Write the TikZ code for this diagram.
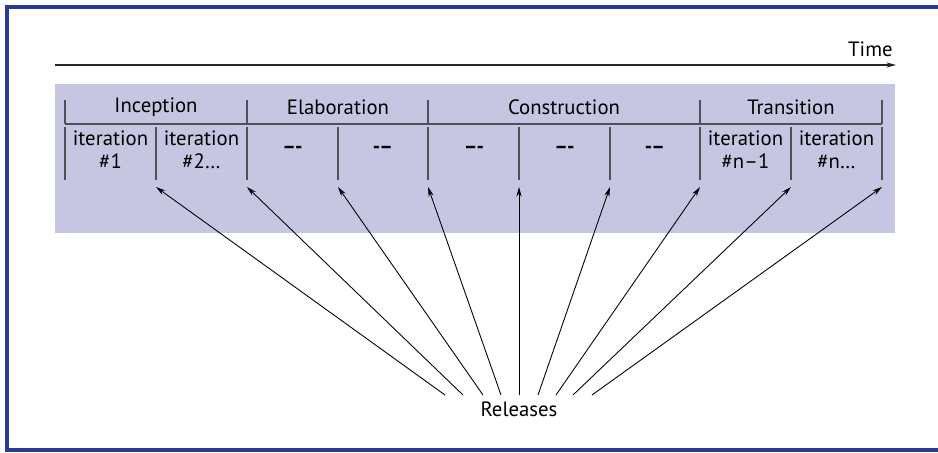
\documentclass[tikz,border=0pt]{standalone}
\usepackage{fontspec}
\setmainfont{PT Sans}
\usetikzlibrary{arrows.meta}
\definecolor{framebl}{RGB}{40,58,150}
\definecolor{lavender}{RGB}{198,198,226}
\definecolor{tickgr}{RGB}{80,80,90}

\begin{document}
\begin{tikzpicture}[x=0.02cm, y=-0.02cm, >={Stealth[length=5.5pt,width=3pt]},
    lbl/.style={font=\fontsize{11.8}{13}\selectfont, inner sep=0pt, align=center},
    dashlbl/.style={font=\fontsize{11.8}{13}\selectfont\bfseries, inner sep=0pt},
    tick/.style={draw=tickgr, line width=0.75pt},
    release/.style={->, line width=0.5pt}]
  \useasboundingbox (0,0) rectangle (938,453);
  % outer frame
  \draw[framebl, line width=2.3pt] (7,7) rectangle (946,450);
  % time axis
  \coordinate (tstart) at (55,65);
  \coordinate (tend) at (896,65);
  \draw[->, line width=0.6pt, draw=black!85] (tstart) -- (tend);
  \node[lbl, anchor=south east] (time) at (893,57) {Time};
  % shaded band
  \fill[lavender] (55,84) rectangle (895,233);
  % phase row
  \draw[tick] (65,124) -- (882,124);
  \foreach \x in {65,247,428,700,882}
    \draw[tick] (\x,100) -- (\x,124);
  \node[lbl] (incep) at (156,107) {Inception};
  \node[lbl] (elab) at (338,107) {Elaboration};
  \node[lbl] (constr) at (564,107) {Construction};
  \node[lbl] (trans) at (791,107) {Transition};
  % iteration row
  \foreach \x [count=\i from 0] in {65,156,247,338,428,519,610,700,791,882} {
    \draw[tick] (\x,127) -- (\x,180);
    \coordinate (t\i) at (\x,187);
  }
  \node[lbl] (it1) at (110.5,150) {iteration\\\#1};
  \node[lbl] (it2) at (201.5,150) {iteration\\\#2\ldots};
  \node[dashlbl] (d1) at (292.5,150) {\textendash\kern-0.5pt-};
  \node[dashlbl] (d2) at (383,150) {-\kern-0.5pt\textendash};
  \node[dashlbl] (d3) at (474,150) {\textendash\kern-0.5pt-};
  \node[dashlbl] (d4) at (564.5,150) {\textendash\kern-0.5pt-};
  \node[dashlbl] (d5) at (655,150) {-\kern-0.5pt\textendash};
  \node[lbl] (itn1) at (745.5,150) {iteration\\\#n\textendash1};
  \node[lbl] (itn) at (836.5,150) {iteration\\\#n\ldots};
  % releases
  \node[lbl] (rel) at (519,409) {Releases};
  \foreach \x [count=\i] in {445,463,483,501,519,538,556,573,592} {
    \coordinate (s\i) at (\x,395);
    \draw[release] (s\i) -- (t\i);
  }
\end{tikzpicture}
\end{document}
